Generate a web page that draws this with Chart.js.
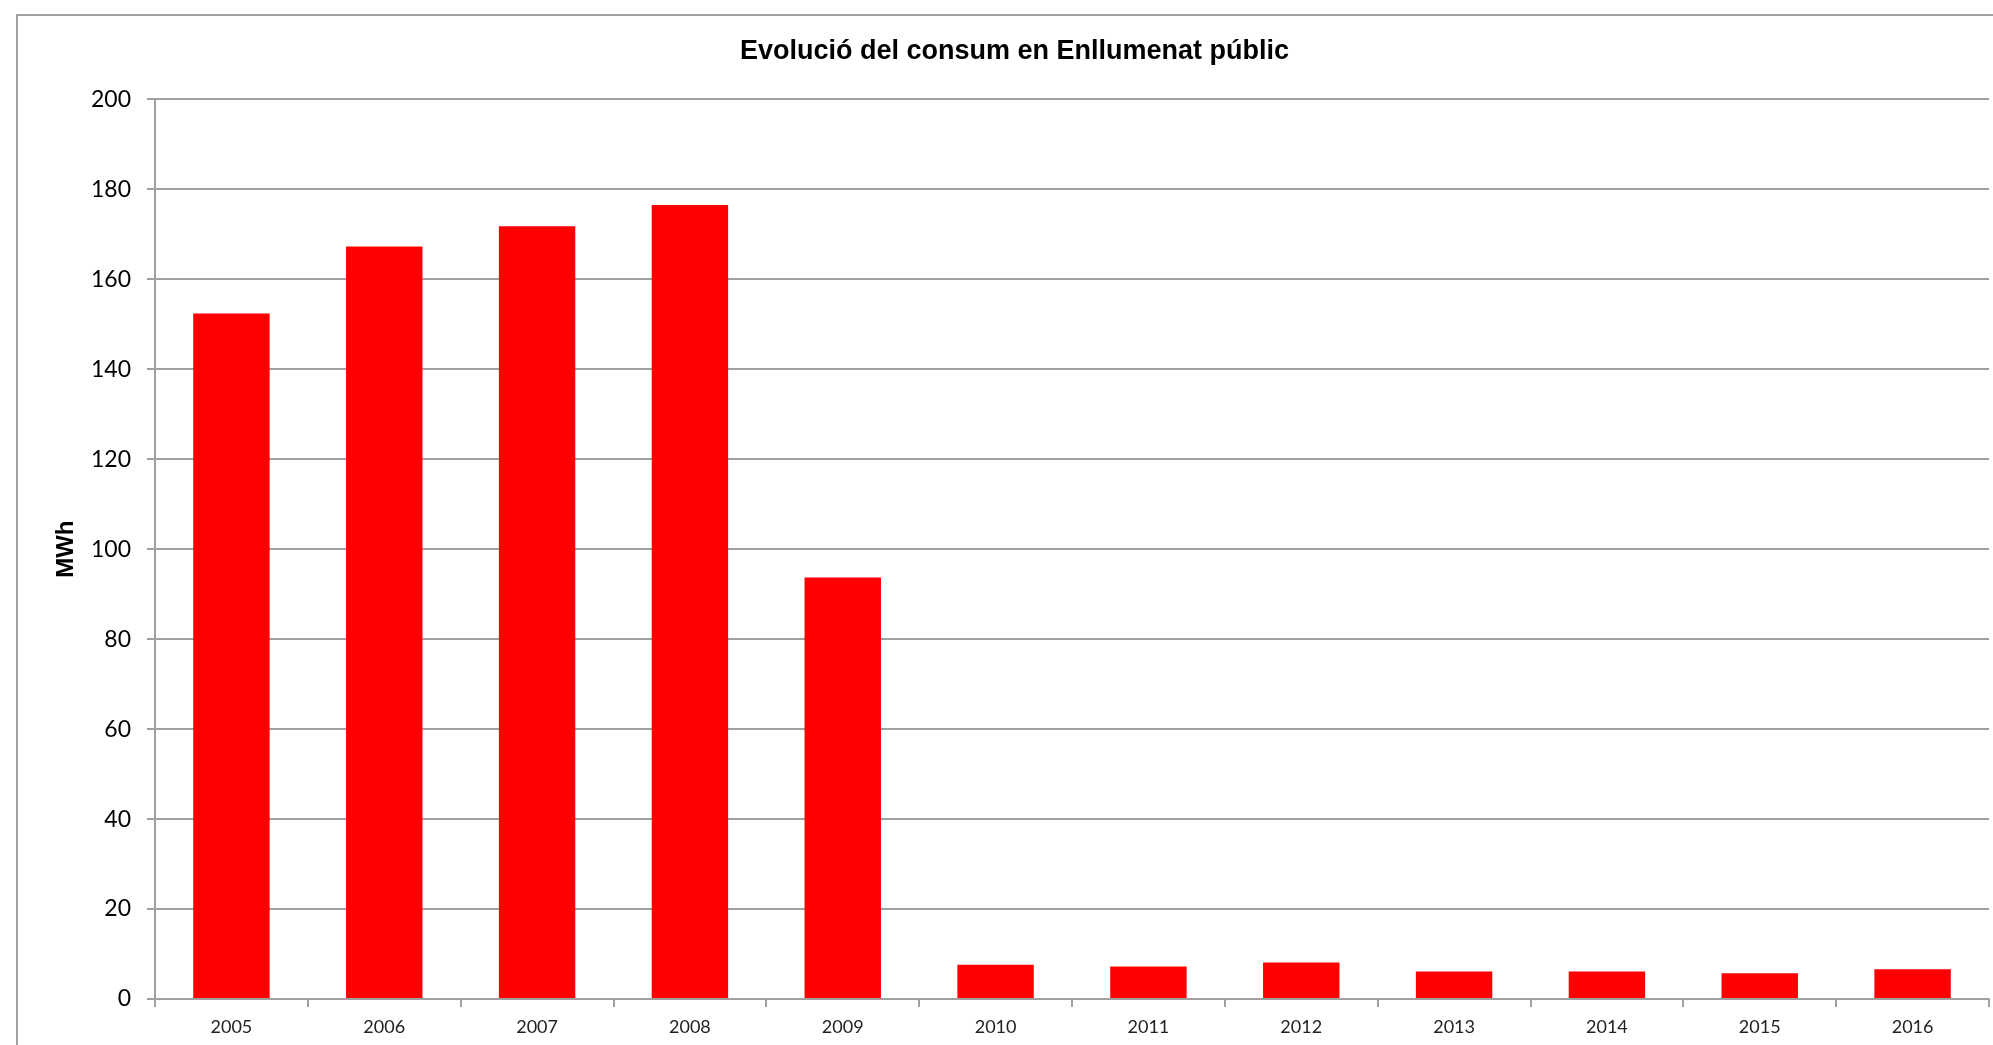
<!DOCTYPE html>
<html>
<head>
<meta charset="utf-8">
<title>Evolució del consum en Enllumenat públic</title>
<script src="https://cdn.jsdelivr.net/npm/chart.js@4/dist/chart.umd.min.js"></script>
<style>
  html, body { margin: 0; padding: 0; background: #fff; overflow: hidden; }
  #wrap { position: relative; width: 1993px; height: 1045px; }
  #frame {
    position: absolute; left: 16px; top: 14px; width: 2100px; height: 1200px;
    border-top: 2px solid #a0a0a0; border-left: 2px solid #a0a0a0;
  }
  canvas { position: absolute; left: 0; top: 0; }
</style>
</head>
<body>
<div id="wrap">
  <div id="frame"></div>
  <canvas id="chart" width="1993" height="1045"></canvas>
</div>
<script>
  // Data
  const years = ["2005", "2006", "2007", "2008", "2009", "2010", "2011", "2012", "2013", "2014", "2015", "2016"];
  const consumMWh = [152.4, 167.3, 171.8, 176.5, 93.7, 7.6, 7.2, 8.1, 6.1, 6.1, 5.7, 6.6];
  const yTicks = [0, 20, 40, 60, 80, 100, 120, 140, 160, 180, 200];

  const gridColor = "#a0a0a0";

  document.addEventListener("DOMContentLoaded", () => {
    const ctx = document.getElementById("chart").getContext("2d");
    new Chart(ctx, {
      type: "bar",
      data: {
        labels: years,
        datasets: [
          {
            label: "MWh",
            data: consumMWh,
            backgroundColor: "#ff0000",
            borderWidth: 0,
            barPercentage: 1,
            categoryPercentage: 0.5,
          },
        ],
      },
      options: {
        responsive: false,
        animation: false,
        layout: {
          padding: { left: 40, right: 4, top: 0, bottom: 0 },
        },
        plugins: {
          legend: { display: false },
          tooltip: { enabled: false },
          title: {
            display: true,
            text: "Evolució del consum en Enllumenat públic",
            color: "#000",
            font: { family: "'Liberation Sans', Arial, sans-serif", size: 27, weight: "bold" },
            padding: { top: 35, bottom: 32 },
          },
        },
        scales: {
          x: {
            grid: {
              display: true,
              drawOnChartArea: false,
              offset: true,
              color: gridColor,
              lineWidth: 2,
              tickLength: 8,
            },
            border: { color: gridColor, width: 2 },
            ticks: {
              color: "#222",
              padding: 9,
              font: { family: "Lato, sans-serif", size: 18 },
            },
            afterFit: (scale) => {
              scale.height = 46;
            },
          },
          y: {
            min: 0,
            max: 200,
            afterBuildTicks: (scale) => {
              scale.ticks = yTicks.map((v) => ({ value: v }));
            },
            grid: {
              color: gridColor,
              lineWidth: 2,
              tickLength: 8,
            },
            border: { color: gridColor, width: 2 },
            ticks: {
              color: "#000",
              padding: 16,
              font: { family: "Lato, sans-serif", size: 23 },
            },
            title: {
              display: true,
              text: "MWh",
              color: "#000",
              font: { family: "'Liberation Sans', Arial, sans-serif", size: 24, weight: "bold" },
              padding: { top: 12, bottom: 0 },
            },
            afterFit: (scale) => {
              scale.width = 115;
            },
          },
        },
      },
    });
  });
</script>
</body>
</html>
